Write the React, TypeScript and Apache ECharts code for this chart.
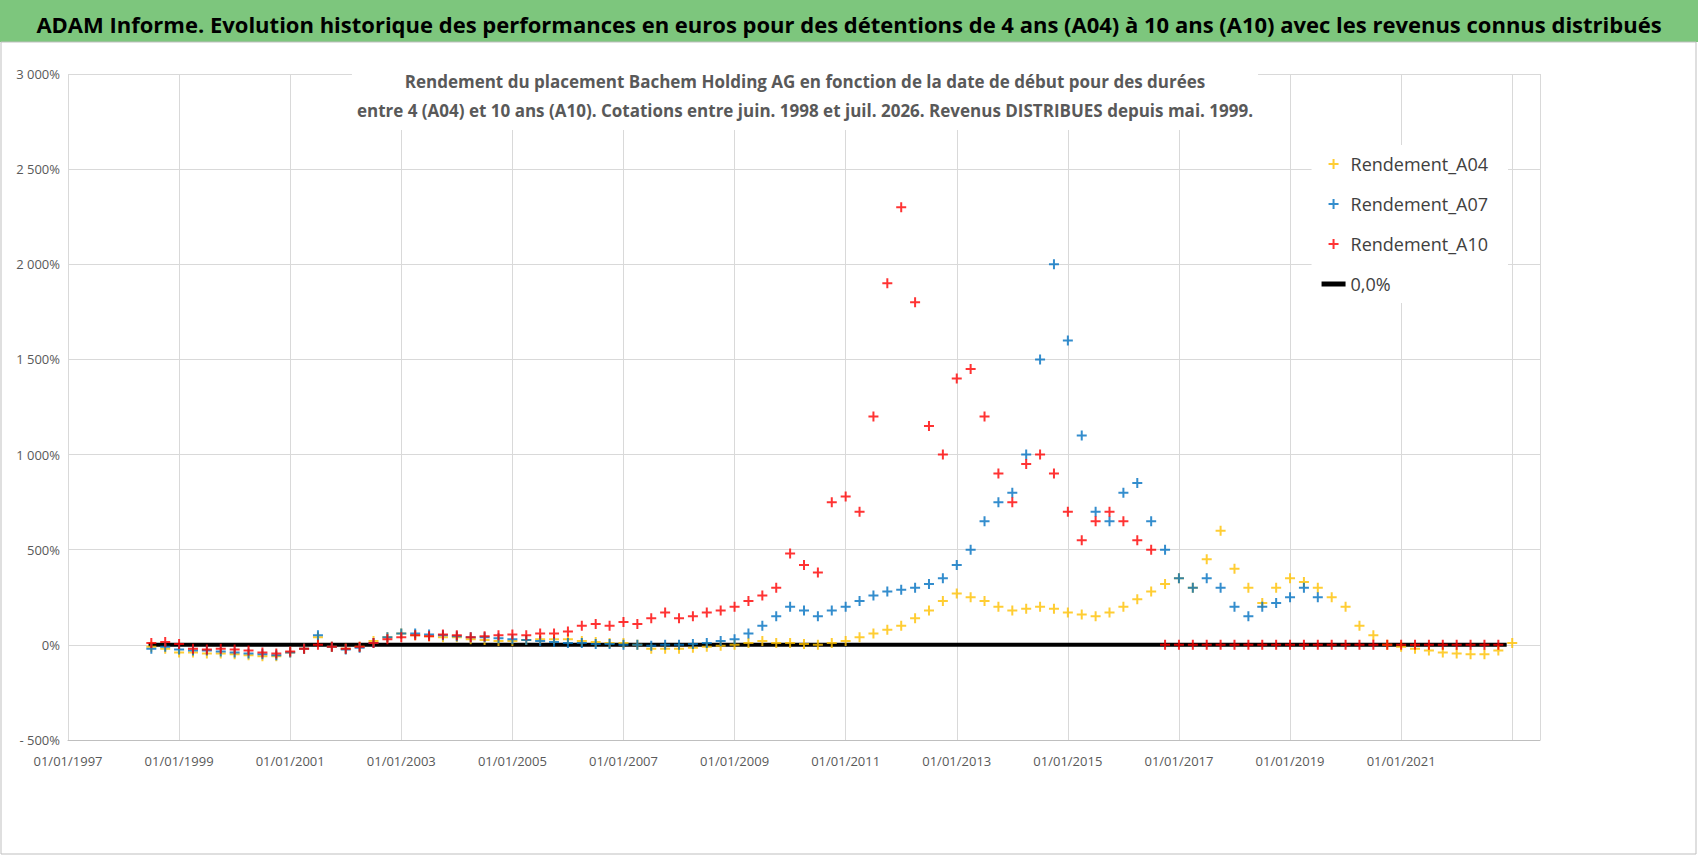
import { useEffect, useRef } from 'react';
import * as echarts from 'echarts';

const quarters = (start: number, n: number) => Array.from({ length: n }, (_, i) => start + i * 0.25);

// A10, quarterly from mid-1998 to mid-2016, then zero values
const a10Values = [
  10, 15, 5, -20, -25, -20, -25, -30, -40, -45, -35, -20, 0, -10, -20, -10, 10, 30,
  40, 50, 45, 55, 50, 40, 45, 50, 55, 50, 60, 60, 70, 100, 110, 100, 120, 110,
  140, 170, 140, 150, 170, 180, 200, 230, 260, 300, 480, 420, 380, 750, 780, 700,
  1200, 1900, 2300, 1800, 1150, 1000, 1400, 1450, 1200, 900, 750, 950, 1000, 900,
  700, 550, 650, 700, 650, 550, 500,
];
const a10Zeros = [0, 0, 0, 0, 0, 0, 0, 0, 0, 0, 0, 0, 0, 0, 0, 0, 0, 0, 0, 0, 0, 0, 0, 0, 0];

const a07Values = [
  -20, -10, -25, -30, -30, -35, -40, -45, -50, -55, -40, -20, 50, -10, -25, -15, 10, 40,
  60, 60, 55, 50, 45, 40, 40, 35, 30, 25, 20, 15, 10, 10, 5, 5, 0, 0,
  -5, 0, 0, 5, 10, 20, 30, 60, 100, 150, 200, 180, 150, 180, 200, 230,
  260, 280, 290, 300, 320, 350, 420, 500, 650, 750, 800, 1000, 1500, 2000,
  1600, 1100, 700, 650, 800, 850, 650, 500, 350, 300, 350, 300, 200, 150,
  200, 220, 250, 300, 250,
];

const a04Values = [
  -10, -20, -40, -40, -45, -45, -50, -55, -60, -60, -40, -20, 40, -10, -20, -10, 20, 40,
  60, 50, 45, 40, 40, 30, 25, 20, 20, 25, 30, 30, 30, 20, 15, 10, 10, 0,
  -20, -20, -20, -15, -10, -5, 0, 10, 20, 10, 10, 5, 0, 10, 20, 40,
  60, 80, 100, 140, 180, 230, 270, 250, 230, 200, 180, 190, 200, 190,
  170, 160, 150, 170, 200, 240, 280, 320, 350, 300, 450, 600, 400, 300,
  220, 300, 350, 330, 300, 250, 200, 100, 50, 0, -10, -20, -30, -40,
  -45, -50, -50, -30, 10,
];

const seriesNames = ['Rendement_A04', 'Rendement_A07', 'Rendement_A10', '0,0%'];
const seriesColors = ['#FFC000', '#0070C0', '#FF0000', '#000000'];
const yTicks = { min: -500, max: 3000, interval: 500 };
const zeroLine = [[1998.45, 0], [2022.9, 0]];

const plus = 'path://M4,0H6V4H10V6H6V10H4V6H0V4H4Z';
const bar = 'path://M0,0H24V5H0Z';
const font = '"Liberation Sans Narrow", "Open Sans", Arial, sans-serif';

const pts = (start: number, vals: number[]) => quarters(start, vals.length).map((x, i) => [x, vals[i]]);

const fmtPct = (v: number) => {
  const s = Math.abs(v).toString().replace(/\B(?=(\d{3})+(?!\d))/g, ' ');
  return (v < 0 ? '- ' : '') + s + '%';
};

export default function App() {
  const el = useRef<HTMLDivElement>(null);

  useEffect(() => {
    document.body.style.margin = '0';
    if (!el.current) return;
    const chart = echarts.init(el.current, null, { renderer: 'svg' });
    const a10 = pts(1998.5, a10Values).concat(pts(2016.75, a10Zeros));
    chart.setOption({
      animation: false,
      textStyle: { fontFamily: font },
      title: [
        {
          text: 'ADAM Informe. Evolution historique des performances en euros pour des détentions de 4 ans (A04) à 10 ans (A10) avec les revenus connus distribués',
          left: 'center',
          top: 8,
          textStyle: { fontSize: 22, fontWeight: 'bold', color: '#000', fontFamily: font },
        },
        {
          text: 'Rendement du placement Bachem Holding AG en fonction de la date de début pour des durées\nentre 4 (A04) et 10 ans (A10). Cotations entre juin. 1998 et juil. 2026. Revenus DISTRIBUES depuis mai. 1999.',
          left: 800,
          textAlign: 'center',
          top: 62,
          textStyle: { fontSize: 17, fontWeight: 'bold', color: '#595959', lineHeight: 29, fontFamily: font },
          backgroundColor: '#fff',
        },
      ],
      graphic: [
        { type: 'rect', shape: { x: 0, y: 0, width: 1698, height: 42 }, style: { fill: '#7DC67D' }, z: -1 },
        { type: 'rect', shape: { x: 1, y: 42, width: 1695, height: 812 }, style: { fill: 'none', stroke: '#bfbfbf', lineWidth: 1 }, z: -1 },
      ],
      legend: {
        orient: 'vertical',
        right: 190,
        top: 145,
        itemGap: 22,
        itemWidth: 24,
        itemHeight: 10,
        backgroundColor: '#fff',
        padding: [10, 20, 10, 10],
        textStyle: { fontSize: 18, color: '#404040', fontFamily: font },
        data: [
          { name: seriesNames[0], icon: plus },
          { name: seriesNames[1], icon: plus },
          { name: seriesNames[2], icon: plus },
          { name: seriesNames[3], icon: bar },
        ],
      },
      grid: { left: 68, right: 158, top: 74, bottom: 116 },
      xAxis: {
        type: 'value',
        min: 1997,
        max: 2023.5,
        interval: 2,
        axisLine: { show: true, onZero: false, lineStyle: { color: '#bfbfbf' } },
        axisTick: { show: false },
        splitLine: { show: true, lineStyle: { color: '#d9d9d9' } },
        axisLabel: {
          color: '#595959',
          fontSize: 13,
          fontFamily: font,
          margin: 14,
          formatter: (v: number) => (v > 2022 ? '' : `01/01/${v}`),
        },
      },
      yAxis: {
        type: 'value',
        ...yTicks,
        axisLine: { show: false },
        axisTick: { show: false },
        splitLine: { lineStyle: { color: '#d9d9d9' } },
        axisLabel: { color: '#595959', fontSize: 13, fontFamily: font, formatter: fmtPct },
      },
      series: [
        { name: seriesNames[3], type: 'line', data: zeroLine, symbol: 'none', lineStyle: { color: '#000', width: 4 }, itemStyle: { color: '#000' }, z: 1 },
        { name: seriesNames[0], type: 'scatter', data: pts(1998.5, a04Values), symbol: plus, symbolSize: 10, itemStyle: { color: seriesColors[0] }, z: 2 },
        { name: seriesNames[1], type: 'scatter', data: pts(1998.5, a07Values), symbol: plus, symbolSize: 10, itemStyle: { color: seriesColors[1] }, z: 3 },
        { name: seriesNames[2], type: 'scatter', data: a10, symbol: plus, symbolSize: 10, itemStyle: { color: seriesColors[2] }, z: 4 },
      ],
    });
    return () => chart.dispose();
  }, []);

  return <div ref={el} style={{ width: 1698, height: 856 }} />;
}
